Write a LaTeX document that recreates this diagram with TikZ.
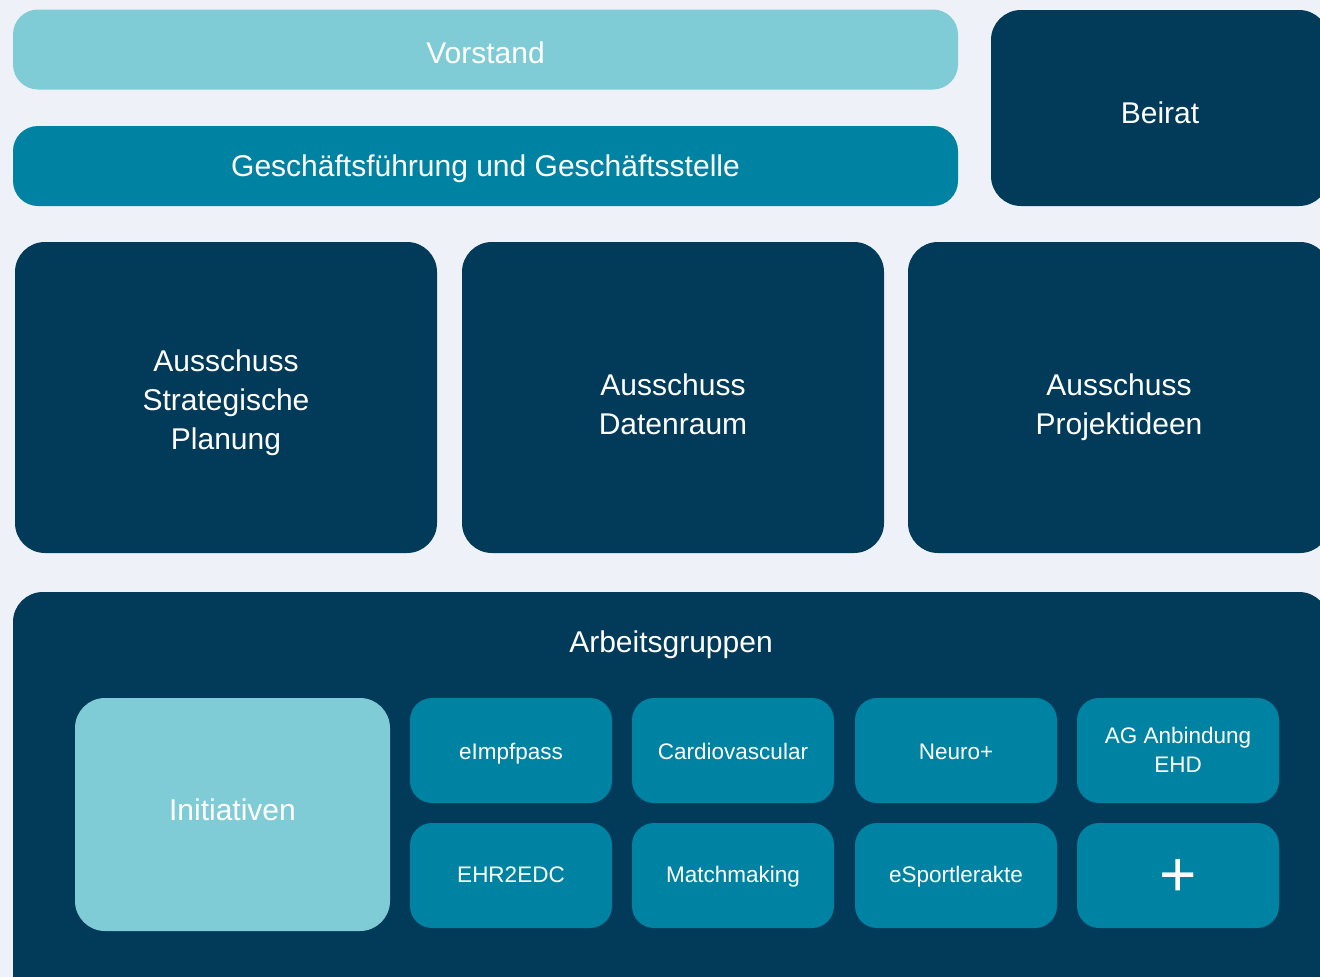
\documentclass[tikz,border=0pt]{standalone}
\usepackage{fontspec}
\setmainfont{Liberation Sans}
\definecolor{uniBG}{RGB}{238,242,248}
\definecolor{uniNavy}{RGB}{2,59,89}
\definecolor{uniTeal}{RGB}{0,131,163}
\definecolor{uniLight}{RGB}{128,204,214}
\usetikzlibrary{positioning}
\tikzset{
	box/.style={rectangle,inner sep=0pt,text=white,align=center},
	txtPos/.style 2 args={text height=#1,text depth=#2},
	navyBox/.style={box,fill=uniNavy,rounded corners=30pt},
	tealBar/.style={box,fill=uniTeal,rounded corners=25pt,minimum width=945pt,minimum height=80pt,font=\bigTxt},
	lightBar/.style={box,fill=uniLight,rounded corners=25pt,minimum width=945pt,minimum height=80pt,font=\bigTxt},
	gremium/.style={navyBox,minimum width=422pt,minimum height=311pt,font=\bigTxt},
	agBox/.style={box,fill=uniTeal,rounded corners=22pt,minimum width=202pt,minimum height=105pt,font=\smallTxt},
}
\newcommand{\bigTxt}{\fontsize{30}{39}\selectfont}
\newcommand{\smallTxt}{\fontsize{22.5}{29}\selectfont}
\begin{document}
\begin{tikzpicture}[x=1pt,y=-1pt]
	\fill [uniBG] (0,0) rectangle (1320,977);
	\useasboundingbox (0,0) rectangle (1320,977);
	\clip (0,0) rectangle (1320,977);
	% Leitung
	\node [lightBar,txtPos={27.6pt}{0pt}] (vorstand) at (485.5,49.5) {Vorstand};
	\node [tealBar,txtPos={21.4pt}{0pt}] (gf) at (485.5,166) {Geschäftsführung und Geschäftsstelle};
	\node [navyBox,minimum width=338pt,minimum height=196pt,font=\bigTxt,txtPos={31pt}{0pt}] (beirat) at (1160,108) {Beirat};
	% Ausschuesse
	\node [gremium,txtPos={103pt}{0pt}] (ausStrat) at (226,397.5) {Ausschuss\\Strategische\\Planung};
	\node [gremium,txtPos={73pt}{0pt}] (ausDaten) at (673,397.5) {Ausschuss\\Datenraum};
	\node [gremium,txtPos={73pt}{0pt}] (ausProj) at (1119,397.5) {Ausschuss\\Projektideen};
	% Arbeitsgruppen
	\node [navyBox,minimum width=1316pt,minimum height=418pt] (ag) at (671,801) {};
	\node [box,font=\bigTxt,txtPos={22pt}{0pt}] (lblAg) at (671,641) {Arbeitsgruppen};
	\node [box,fill=uniLight,rounded corners=30pt,minimum width=315pt,minimum height=233pt,font=\bigTxt,txtPos={11pt}{0pt}] (init) at (232.5,814.5) {Initiativen};
	\node [agBox,txtPos={17pt}{0pt}] (agImpf) at (511,750.5) {eImpfpass};
	\node [agBox,txtPos={17pt}{0pt}] (agCardio) at (733,750.5) {Cardiovascular};
	\node [agBox,txtPos={17pt}{0pt}] (agNeuro) at (956,750.5) {Neuro+};
	\node [agBox,txtPos={43.6pt}{0pt}] (agEhd) at (1178,750.5) {AG Anbindung\\EHD};
	\node [agBox,txtPos={13.6pt}{0pt}] (agEhr) at (511,875.5) {EHR2EDC};
	\node [agBox,txtPos={13.6pt}{0pt}] (agMatch) at (733,875.5) {Matchmaking};
	\node [agBox,txtPos={13.6pt}{0pt}] (agSport) at (956,875.5) {eSportlerakte};
	\node [agBox,font=\fontsize{64}{64}\selectfont,txtPos={42pt}{0pt}] (agPlus) at (1178,875.5) {+};
\end{tikzpicture}
\end{document}
